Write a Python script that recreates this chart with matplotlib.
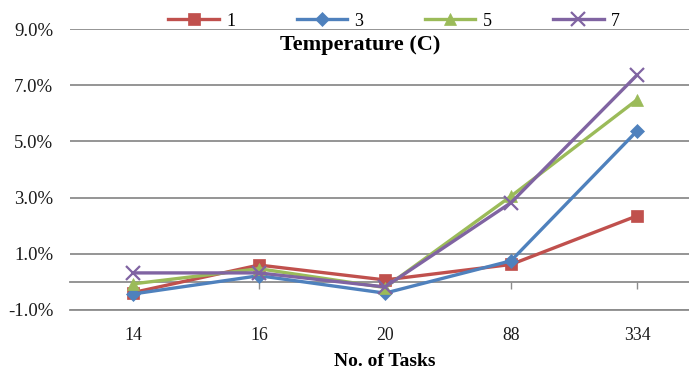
import matplotlib
matplotlib.use("Agg")
import matplotlib.pyplot as plt
from matplotlib.ticker import FuncFormatter, FixedLocator

plt.rcParams['font.family'] = ['Liberation Serif', 'DejaVu Serif']

tasks = ["14", "16", "20", "88", "334"]
series_names = ["1", "3", "5", "7"]
s1 = [-0.38, 0.60, 0.07, 0.62, 2.35]
s3 = [-0.43, 0.22, -0.40, 0.75, 5.37]
s5 = [-0.07, 0.47, -0.20, 3.05, 6.48]
s7 = [0.32, 0.32, -0.18, 2.82, 7.36]

colors = ["#C0504D", "#4F81BD", "#9BBB59", "#8064A2"]
markers = ["s", "D", "^", "x"]
msizes = [9, 7, 9, 10]

W, H = 689, 373
fig = plt.figure(figsize=(W / 100, H / 100), dpi=100)
# plot area runs past the right edge of the canvas
left, right, top, bottom = 70, 700, 29, 310
ax = fig.add_axes([left / W, 1 - bottom / H, (right - left) / W, (bottom - top) / H])

x = list(range(len(tasks)))
for vals, c, m, ms, name in zip([s1, s3, s5, s7], colors, markers, msizes, series_names):
    ax.plot(x, vals, color=c, lw=2.4, marker=m, ms=ms, mew=1.6 if m == "x" else 0.5,
            mec=c, mfc=c, label=name, solid_joinstyle="round", clip_on=False, zorder=3)

ax.set_xlim(-0.5, len(tasks) - 0.5)
ax.set_ylim(-1.0, 9.0)
ax.yaxis.set_major_locator(FixedLocator([-1, 1, 3, 5, 7, 9]))
ax.yaxis.set_major_formatter(FuncFormatter(lambda v, p: f"{v:.1f}%"))
ax.grid(axis="y", color="#8C8C8C", lw=1.3)
ax.set_axisbelow(True)
ax.tick_params(axis="y", length=0, labelsize=13.5, pad=12, colors="#1a1a1a")

for s in ["top", "right", "left"]:
    ax.spines[s].set_visible(False)
# horizontal axis line crosses at zero
ax.spines["bottom"].set_position(("data", 0))
ax.spines["bottom"].set_color("#8C8C8C")
ax.spines["bottom"].set_linewidth(1.3)
ax.spines["bottom"].set_zorder(1)
ax.set_xticks(x)
ax.tick_params(axis="x", length=5, width=1.0, color="#8C8C8C", labelbottom=False)

# category labels along the bottom of the plot area
sec = ax.secondary_xaxis(0)
sec.set_xticks(x)
sec.set_xticklabels(tasks)
sec.tick_params(length=0, labelsize=12.8, pad=12, colors="#1a1a1a")
sec.spines["bottom"].set_color("#8C8C8C")
sec.spines["bottom"].set_linewidth(1.3)
sec.set_xlabel("No. of Tasks", fontsize=14, fontweight="bold", labelpad=7)

fig.text(360 / W, 1 - 45 / H, "Temperature (C)", fontsize=16, fontweight="bold",
         ha="center", va="center")

ax.legend(loc="center", bbox_to_anchor=(394 / W, 1 - 21 / H), bbox_transform=fig.transFigure,
          ncol=4, frameon=False, fontsize=13, handlelength=2.8, handletextpad=0.4,
          columnspacing=3.4, borderaxespad=0)

fig.savefig("out.png", dpi=100)
